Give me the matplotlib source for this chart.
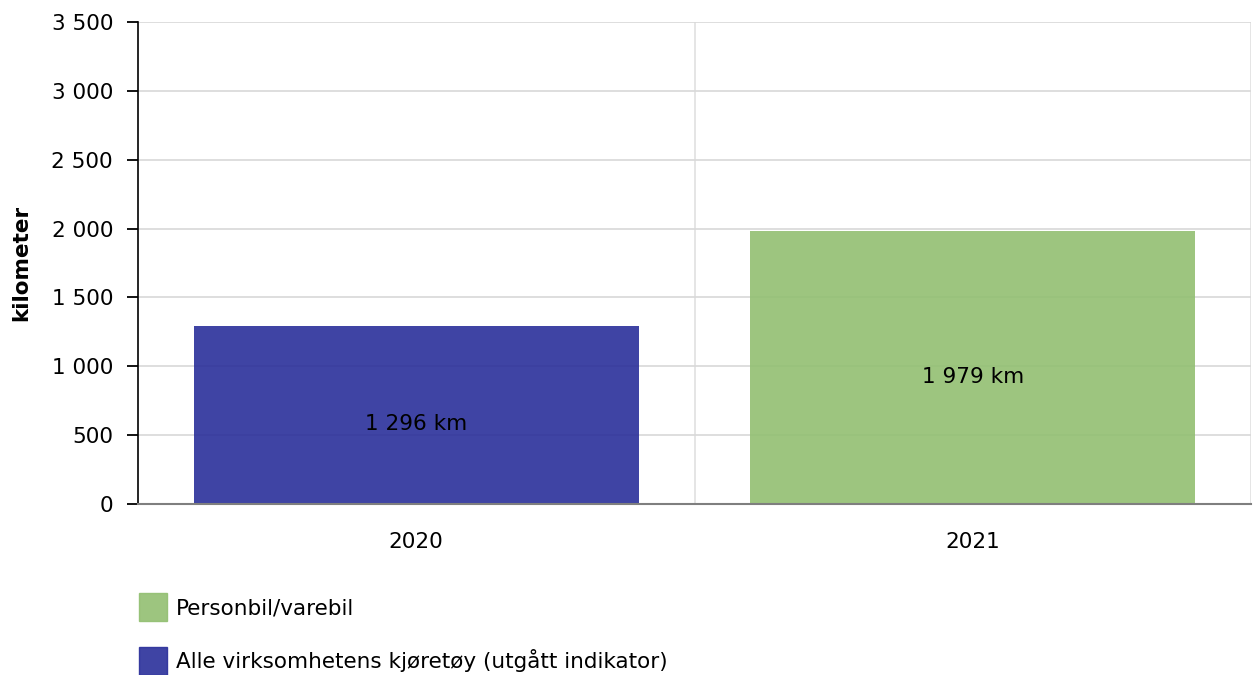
import matplotlib
matplotlib.use("Agg")
import matplotlib.pyplot as plt
from matplotlib.patches import Patch
from matplotlib.ticker import FuncFormatter, FixedLocator

# data
years = ["2020", "2021"]
values = [1296, 1979]
series_names = ["Alle virksomhetens kjøretøy (utgått indikator)", "Personbil/varebil"]
bar_colors = ["#2A2F9A", "#92BF71"]
legend_order = [1, 0]  # green entry is listed first
y_ticks = [0, 500, 1000, 1500, 2000, 2500, 3000, 3500]


def space_thousands(v, pos=None):
    return f"{int(round(v)):,}".replace(",", " ")


plt.rcParams["font.family"] = ["DejaVu Sans"]
fs = 15.5

fig = plt.figure(figsize=(12.53, 6.75), dpi=100)
ax = fig.add_axes([138 / 1253, 1 - 504 / 675, 1113 / 1253, 482 / 675])

x = list(range(len(years)))
ax.bar(x, values, width=0.8, color=bar_colors, alpha=0.9, zorder=2)

for xi, v in zip(x, values):
    ax.annotate(f"{space_thousands(v)} km", (xi, v / 2), xytext=(0, -7),
                textcoords="offset points", ha="center", va="center",
                fontsize=fs, color="black", zorder=3)

ax.set_xlim(-0.5, len(years) - 0.5)
ax.set_ylim(0, 3500)
ax.set_yticks(y_ticks)
ax.yaxis.set_major_formatter(FuncFormatter(space_thousands))
ax.set_xticks(x)
ax.set_xticklabels(years)
ax.xaxis.set_minor_locator(FixedLocator([0.5, 1.5]))

ax.grid(axis="y", color="#D8D8D8", linewidth=1.2, zorder=1)
ax.grid(axis="x", which="minor", color="#E0E0E0", linewidth=1.2, zorder=1)
ax.set_axisbelow(True)

ax.tick_params(axis="y", length=8, width=1.3, color="black", pad=10, labelsize=fs)
ax.tick_params(axis="x", which="both", length=0, pad=20, labelsize=fs)

for side in ["top", "right"]:
    ax.spines[side].set_visible(False)
ax.spines["left"].set_color("black")
ax.spines["left"].set_linewidth(1.2)
ax.spines["bottom"].set_color("#7F7F7F")
ax.spines["bottom"].set_linewidth(1.5)
ax.spines["bottom"].set_zorder(4)

ax.set_ylabel("kilometer", fontsize=fs, fontweight="bold")
ax.yaxis.set_label_coords(-0.096, 0.5)

handles = [Patch(facecolor=bar_colors[i], edgecolor=bar_colors[i], alpha=0.9,
                 label=series_names[i]) for i in legend_order]
fig.legend(handles=handles, loc="upper left", bbox_to_anchor=(122 / 1253, 1 - 576 / 675),
           frameon=False, fontsize=fs, handlelength=1.3, handleheight=1.63,
           handletextpad=0.42, labelspacing=1.2, borderpad=0.3)

fig.savefig("out.png", dpi=100)
